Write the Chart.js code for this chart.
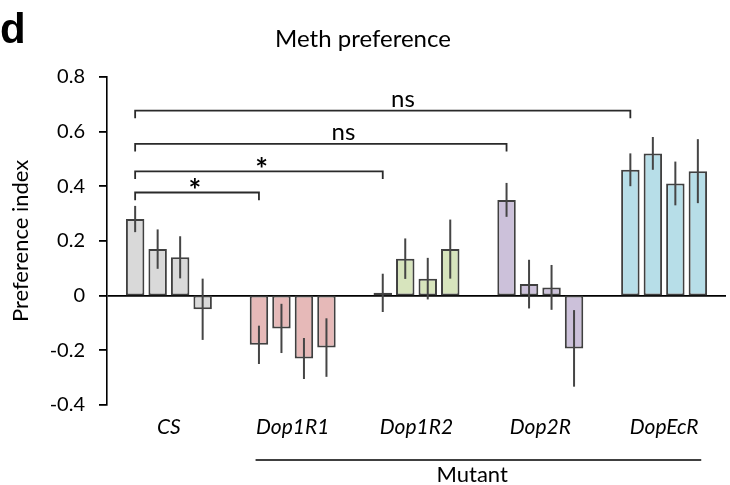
<!DOCTYPE html>
<html>
<head>
<meta charset="utf-8">
<script src="https://cdn.jsdelivr.net/npm/chart.js@4.4.0/dist/chart.umd.min.js"></script>
<style>
  html, body { margin: 0; padding: 0; background: #ffffff; }
  #wrap { width: 730px; height: 485px; }
</style>
</head>
<body>
<div id="wrap"><canvas id="methChart" width="730" height="485"></canvas></div>
<script>
// Genotypes on the x axis
const categories = ['CS', 'Dop1R1', 'Dop1R2', 'Dop2R', 'DopEcR'];

// Preference index, one array per bar position inside each group
const rep1 = [0.28, -0.18, 0.01, 0.35, 0.46];
const rep2 = [0.17, -0.12, 0.135, 0.042, 0.52];
const rep3 = [0.14, -0.23, 0.062, 0.03, 0.41];
const rep4 = [-0.05, -0.19, 0.17, -0.193, 0.455];

// Error bar half-lengths, same layout as above
const err1 = [0.048, 0.07, 0.07, 0.062, 0.06];
const err2 = [0.072, 0.09, 0.074, 0.089, 0.06];
const err3 = [0.077, 0.075, 0.076, 0.082, 0.08];
const err4 = [0.112, 0.107, 0.108, 0.14, 0.117];

// Y tick labels (from -0.4 up to 0.8)
const yTickLabels = ['-0.4', '-0.2', '0', '0.2', '0.4', '0.6', '0.8'];

// Significance brackets: CS compared with group index, bracket level, label, label position
const bracketTargets = [1, 2, 3, 4];
const bracketLevels = [0.377, 0.454, 0.555, 0.676];
const bracketLabels = ['*', '*', 'ns', 'ns'];
const bracketLabelPos = [0.21, 0.75, 1.41, 1.89];

// Fill colour of each group
const groupColors = ['#d9d9d9', '#e6b9b8', '#d7e4bd', '#ccc1da', '#b7dee8'];

const fontFamily = 'Lato, "Open Sans", sans-serif';
const allReps = [rep1, rep2, rep3, rep4];
const allErrs = [err1, err2, err3, err4];

// Vertical error lines drawn over every bar
const errorBars = {
    id: 'errorBars',
    afterDatasetsDraw(chart) {
        const { ctx, scales: { y } } = chart;
        ctx.save();
        ctx.strokeStyle = '#454545';
        ctx.lineWidth = 2;
        chart.data.datasets.forEach((ds, i) => {
            chart.getDatasetMeta(i).data.forEach((bar, j) => {
                const v = ds.data[j];
                const e = allErrs[i][j];
                ctx.beginPath();
                ctx.moveTo(bar.x, y.getPixelForValue(v + e));
                ctx.lineTo(bar.x, y.getPixelForValue(v - e));
                ctx.stroke();
            });
        });
        ctx.restore();
    },
};

// Brackets, panel letter and the "Mutant" line under the axis
const annotations = {
    id: 'annotations',
    afterDraw(chart) {
        const { ctx, scales: { x, y } } = chart;
        const first = chart.getDatasetMeta(0).data;
        ctx.save();
        ctx.strokeStyle = '#2a2a2a';
        ctx.fillStyle = '#000000';
        ctx.lineWidth = 1.8;
        bracketTargets.forEach((t, k) => {
            const x0 = first[0].x;
            const x1 = first[t].x;
            const yl = y.getPixelForValue(bracketLevels[k]);
            const yd = y.getPixelForValue(bracketLevels[k] - 0.028);
            ctx.beginPath();
            ctx.moveTo(x0, yd);
            ctx.lineTo(x0, yl);
            ctx.lineTo(x1, yl);
            ctx.lineTo(x1, yd);
            ctx.stroke();
            const lx = x.getPixelForValue(bracketLabelPos[k]);
            ctx.textAlign = 'center';
            ctx.textBaseline = 'alphabetic';
            if (bracketLabels[k] === '*') {
                ctx.font = 'bold 30px ' + fontFamily;
                ctx.fillText('*', lx, yl + 9);
            } else {
                ctx.font = '24px ' + fontFamily;
                ctx.fillText(bracketLabels[k], lx, yl - 4);
            }
        });

        // "Mutant" underline spans the four mutant groups
        const ml = x.getPixelForValue(0.7);
        const mr = x.getPixelForValue(4.3);
        ctx.strokeStyle = '#000000';
        ctx.lineWidth = 1.5;
        ctx.beginPath();
        ctx.moveTo(ml, 460);
        ctx.lineTo(mr, 460);
        ctx.stroke();
        ctx.font = '22px ' + fontFamily;
        ctx.textBaseline = 'middle';
        ctx.fillText('Mutant', x.getPixelForValue(2.45), 475);

        // panel letter
        ctx.font = 'bold 42px "Liberation Sans", Arial, sans-serif';
        ctx.textAlign = 'left';
        ctx.textBaseline = 'alphabetic';
        ctx.fillText('d', 0, 43);
        ctx.restore();
    },
};

const datasets = allReps.map((rep, i) => ({
    label: 'rep' + (i + 1),
    data: rep,
    backgroundColor: groupColors,
    borderColor: '#404040',
    borderWidth: 2,
    borderSkipped: false,
    categoryPercentage: 0.727,
    barPercentage: 0.82,
}));

new Chart(document.getElementById('methChart').getContext('2d'), {
    type: 'bar',
    data: { labels: categories, datasets: datasets },
    options: {
        responsive: false,
        animation: false,
        layout: { padding: { left: 0, right: 4, top: 0, bottom: 0 } },
        plugins: {
            legend: { display: false },
            tooltip: { enabled: false },
            title: {
                display: true,
                text: 'Meth preference',
                color: '#000000',
                font: { size: 24, weight: 'normal', family: fontFamily },
                padding: { top: 25, bottom: 23 },
            },
        },
        scales: {
            x: {
                grid: { display: false, drawTicks: false },
                border: { display: false },
                ticks: {
                    color: '#000000',
                    padding: 10,
                    font: { size: 21, style: 'italic', family: fontFamily },
                },
                afterFit(scale) { scale.height = 80; },
            },
            y: {
                min: -0.4,
                max: 0.8,
                ticks: {
                    stepSize: 0.2,
                    color: '#000000',
                    padding: 14,
                    font: { size: 20, family: fontFamily },
                    callback: (v, i) => yTickLabels[i],
                },
                grid: {
                    color: (c) => (c.index === 2 ? '#000000' : 'rgba(0,0,0,0)'),
                    lineWidth: 1.8,
                    tickColor: '#000000',
                    tickLength: 8,
                },
                border: { display: true, color: '#000000', width: 1.6 },
                title: {
                    display: true,
                    text: 'Preference index',
                    color: '#000000',
                    font: { size: 22, family: fontFamily },
                    padding: { top: 8, bottom: 0 },
                },
                afterFit(scale) { scale.width = 107; },
            },
        },
    },
    plugins: [errorBars, annotations],
});
</script>
</body>
</html>
